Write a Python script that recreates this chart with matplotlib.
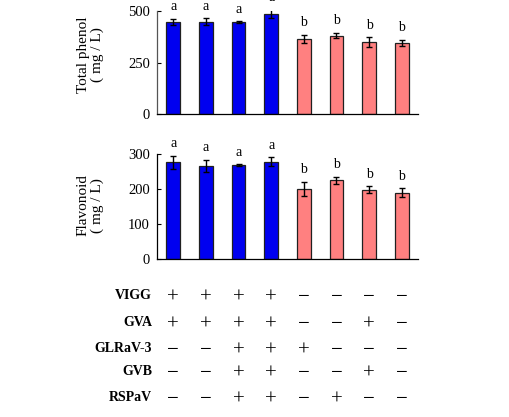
import matplotlib
matplotlib.use("Agg")
import matplotlib.pyplot as plt
import matplotlib.transforms as mtransforms
import numpy as np

plt.rcParams['font.family'] = ['Liberation Serif', 'DejaVu Serif']

# data
phenol = [448, 448, 447, 487, 365, 381, 348, 345]
phenol_err = [15, 17, 3, 22, 20, 12, 25, 15]
flav = [277, 266, 269, 279, 201, 226, 199, 190]
flav_err = [18, 18, 3, 12, 20, 10, 10, 13]
phenol_letters = ["a", "a", "a", "a", "b", "b", "b", "b"]
flav_letters = ["a", "a", "a", "a", "b", "b", "b", "b"]
bar_colors = ["#0000f0"] * 4 + ["#ff8080"] * 4

virus_names = ["VIGG", "GVA", "GLRaV-3", "GVB", "RSPaV"]
virus_table = [
    "++++----",
    "++++--+-",
    "--+++---",
    "--++--+-",
    "--++-+--",
]

fig = plt.figure(figsize=(5.09, 4.17), dpi=100)
ax1 = fig.add_axes([0.3084, 0.7266, 0.5128, 0.2470])
ax2 = fig.add_axes([0.3084, 0.3782, 0.5128, 0.2518])

xs = np.arange(len(phenol))


def panel(ax, vals, errs, letters, ymax, ticks):
    ax.bar(xs, vals, width=0.42, color=bar_colors, edgecolor="#202020", linewidth=0.9, zorder=2)
    ax.errorbar(xs, vals, yerr=errs, fmt="none", ecolor="black", elinewidth=1.0,
                capsize=2.2, capthick=1.0, zorder=3)
    for x, v, e, l in zip(xs, vals, errs, letters):
        ax.annotate(l, (x, v + e), xytext=(0, 4), textcoords="offset points",
                    ha="center", va="bottom", fontsize=10, annotation_clip=False)
    ax.set_xlim(-0.5, 7.5)
    ax.set_ylim(0, ymax)
    ax.set_yticks(ticks)
    ax.set_xticks([])
    ax.spines["top"].set_visible(False)
    ax.spines["right"].set_visible(False)
    ax.tick_params(axis="y", direction="in", length=3, width=0.8, labelsize=10.5, pad=5)
    for s in ["left", "bottom"]:
        ax.spines[s].set_linewidth(0.9)


panel(ax1, phenol, phenol_err, phenol_letters, 500, [0, 250, 500])
panel(ax2, flav, flav_err, flav_letters, 300, [0, 100, 200, 300])
ax1.spines["left"].set_color("#555555")

fig.text(0.178, 0.868, "Total phenol\n( mg / L)", rotation=90, ha="center", va="center",
         fontsize=11, linespacing=1.1)
fig.text(0.178, 0.508, "Flavonoid\n( mg / L)", rotation=90, ha="center", va="center",
         fontsize=11, linespacing=1.1)

# infection table under the bars
trans = mtransforms.blended_transform_factory(ax2.transData, fig.transFigure)
row_px = [295, 321.7, 347.7, 371, 396.7]
for name, row, ypx in zip(virus_names, virus_table, row_px):
    yb = 1 - (ypx + 4.0) / 417
    ys = 1 - (ypx + 7.5) / 417
    fig.text(0.2985, yb, name, ha="right", va="baseline", fontsize=10, fontweight="bold")
    for x, c in zip(xs, row):
        sym = "+" if c == "+" else "\u2212"
        fig.text(x, ys, sym, transform=trans, ha="center", va="baseline", fontsize=15)

fig.savefig("out.png", dpi=100)
